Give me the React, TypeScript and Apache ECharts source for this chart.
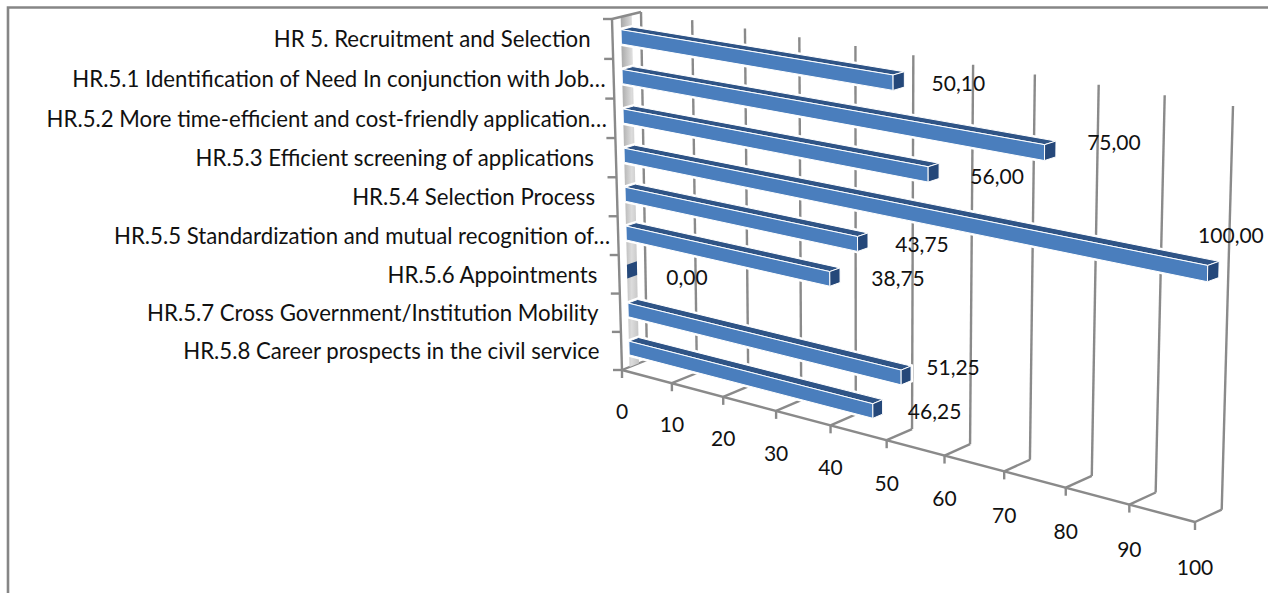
import React, { useEffect, useRef } from "react";
import * as echarts from "echarts";

const categories = [
  "HR 5. Recruitment and Selection",
  "HR.5.1 Identification of Need In conjunction with Job…",
  "HR.5.2 More time-efficient and cost-friendly application…",
  "HR.5.3 Efficient screening of applications",
  "HR.5.4 Selection Process",
  "HR.5.5 Standardization and mutual recognition of…",
  "HR.5.6 Appointments",
  "HR.5.7 Cross Government/Institution Mobility",
  "HR.5.8 Career prospects in the civil service",
];
const values = [50.1, 75, 56, 100, 43.75, 38.75, 0, 51.25, 46.25];
const xTicks = [0, 10, 20, 30, 40, 50, 60, 70, 80, 90, 100];

// Layout of the drawing (not data)
const labelOffsets: [number, number][] = [
  [54, 3], [58, -7], [58, 5], [12, -35], [54, 3], [58, 2], [50, 8], [42, -7], [52, 4],
];
const FONT = "Lato";
const FS_CAT = 22.2;
const FS_VAL = 21;
const GRID = { x: 100, y: 50, w: 1000, h: 450 };
const D0 = 0.3, D1 = 0.68, BAR = 0.18;
const C_GRID = "#8a8a8a";

type Pt = [number, number];
function homography(q: [Pt, Pt, Pt, Pt]) {
  const [[x0, y0], [x1, y1], [x2, y2], [x3, y3]] = q;
  const dx1 = x1 - x2, dx2 = x3 - x2, sx = x0 - x1 + x2 - x3;
  const dy1 = y1 - y2, dy2 = y3 - y2, sy = y0 - y1 + y2 - y3;
  const den = dx1 * dy2 - dx2 * dy1;
  const g = (sx * dy2 - dx2 * sy) / den;
  const h = (dx1 * sy - sx * dy1) / den;
  const a = x1 - x0 + g * x1, b = x3 - x0 + h * x3, c = x0;
  const d = y1 - y0 + g * y1, e = y3 - y0 + h * y3, f = y0;
  return (u: number, v: number): Pt => {
    const w = g * u + h * v + 1;
    return [(a * u + b * v + c) / w, (d * u + e * v + f) / w];
  };
}
const front = homography([[612, 19], [1201, 116], [1195, 522], [622, 370]]);
const back = homography([[641, 12], [1233, 106], [1221.7, 509.7], [647, 360]]);

// grid pixel (from the axes' scales) + depth -> skewed 3D picture position
function project(p: number[], d: number): Pt {
  const u = (p[0] - GRID.x) / GRID.w;
  const v = (p[1] - GRID.y) / GRID.h;
  const f = front(u, v), b = back(u, v);
  return [f[0] + (b[0] - f[0]) * d, f[1] + (b[1] - f[1]) * d];
}
const textStyle = (text: string, x: number, y: number, align: string, fs: number) => ({
  type: "text",
  silent: true,
  style: { text, x, y, align, verticalAlign: "middle", font: `${fs}px ${FONT}`, fill: "#111" },
});
const line = (a: Pt, b: Pt, w = 2.4) => ({
  type: "line",
  silent: true,
  shape: { x1: a[0], y1: a[1], x2: b[0], y2: b[1] },
  style: { stroke: C_GRID, lineWidth: w },
});
const poly = (points: Pt[], style: any) => ({ type: "polygon", silent: true, shape: { points }, style });

const renderTick = (_: any, api: any) => {
  const tick = api.value(0);
  const top = api.coord([tick, 0]);
  const band = api.size([0, 1])[1];
  const yTop = top[1] - band / 2;
  const yBot = yTop + band * categories.length;
  const pTop: number[] = [top[0], yTop], pBot: number[] = [top[0], yBot];
  const f = project(pBot, 0), b = project(pBot, 1), t = project(pTop, 1);
  return {
    type: "group",
    children: [
      line(t, b),
      line(b, f),
      line(f, [f[0], f[1] + 8]),
      textStyle(String(tick), f[0], f[1] + 40 + tick * 0.04, "center", FS_VAL),
    ],
  };
};

const renderWall = (_: any, api: any) => {
  const a = api.coord([0, 0]);
  const band = api.size([0, 1])[1];
  const yTop = a[1] - band / 2;
  const yBot = yTop + band * categories.length;
  const z = api.coord([100, 0]);
  const children: any[] = [];
  const tl = project([a[0], yTop], D0), tr = project([a[0], yTop], D1);
  const bl = project([a[0], yBot], D0), br = project([a[0], yBot], D1);
  children.push(
    poly([tl, tr, br, bl], {
      fill: new echarts.graphic.LinearGradient(0, 0, 1, 0, [
        { offset: 0, color: "#a6a6a6" },
        { offset: 0.6, color: "#dcdcdc" },
        { offset: 1, color: "#c4c4c4" },
      ]),
    }),
  );
  const s0 = project([a[0], yTop], 0), s1 = project([a[0], yBot], 0), c = project([a[0], yTop], 1);
  children.push(line(s0, s1), line(s0, c), line(s1, project([z[0], yBot], 0)));
  for (let i = 0; i <= categories.length; i++) {
    const p = project([a[0], yTop + band * i], 0);
    children.push(line(p, [p[0] - 9, p[1]]));
  }
  return { type: "group", children };
};

const renderCat = (_: any, api: any) => {
  const i = api.value(0);
  const name = categories[i];
  const p = api.coord([0, i]);
  const f = project(p, 0);
  const gap = name.endsWith("…") ? 8 : 22;
  return textStyle(name, f[0] - gap, f[1], "right", FS_CAT);
};

const renderBar = (_: any, api: any) => {
  const val = api.value(0);
  const i = api.value(1);
  const p0 = api.coord([0, i]);
  const p1 = api.coord([val, i]);
  const h = api.size([0, 1])[1] * BAR;
  const ft0 = project([p0[0], p0[1] - h], D0), ft1 = project([p1[0], p1[1] - h], D0);
  const fb0 = project([p0[0], p0[1] + h], D0), fb1 = project([p1[0], p1[1] + h], D0);
  const bt0 = project([p0[0], p0[1] - h], D1), bt1 = project([p1[0], p1[1] - h], D1);
  const bb1 = project([p1[0], p1[1] + h], D1);
  const kids: any[] = [];
  if (val > 0) {
    kids.push(poly([bt0, bt1, bb1, fb1, fb0, ft0], { fill: "#fff", stroke: "#fff", lineWidth: 4 }));
    kids.push(poly([ft0, ft1, bt1, bt0], { fill: "#2f5486", stroke: "#fff", lineWidth: 1 }));
    kids.push(poly([ft0, ft1, fb1, fb0], { fill: "#4a7ebd", stroke: "#fff", lineWidth: 1 }));
  }
  kids.push(poly([ft1, bt1, bb1, fb1], { fill: "#25487a", stroke: "#fff", lineWidth: val > 0 ? 1 : 0 }));
  return { type: "group", children: kids };
};

const renderValue = (_: any, api: any) => {
  const val = api.value(0);
  const i = api.value(1);
  const p = api.coord([val, i]);
  const end = project(p, D1);
  const [ox, oy] = labelOffsets[i];
  return textStyle(val.toFixed(2).replace(".", ","), end[0] + ox, end[1] + oy, "center", FS_VAL);
};

export default function App() {
  const ref = useRef<HTMLDivElement>(null);
  useEffect(() => {
    const chart = echarts.init(ref.current!, undefined, { renderer: "svg" });
    const barData = values.map((v, i) => [v, i]);
    chart.setOption({
      animation: false,
      backgroundColor: "#fff",
      grid: { left: GRID.x, top: GRID.y, width: GRID.w, height: GRID.h },
      xAxis: { type: "value", min: 0, max: 100, interval: 10, show: false },
      yAxis: { type: "category", data: categories, inverse: true, show: false },
      graphic: [
        {
          type: "polyline",
          silent: true,
          shape: { points: [[8, 593], [8, 7.5], [1268, 7.5]] },
          style: { stroke: "#868686", lineWidth: 2.6, fill: "none" },
        },
      ],
      series: [
        { type: "custom", coordinateSystem: "cartesian2d", data: xTicks.map((t) => [t]), encode: { x: 0 }, renderItem: renderTick, clip: false, z: 1 },
        { type: "custom", coordinateSystem: "cartesian2d", data: [[0]], encode: { x: 0 }, renderItem: renderWall, clip: false, z: 2 },
        { type: "custom", coordinateSystem: "cartesian2d", data: barData, encode: { x: 0, y: 1 }, renderItem: renderBar, clip: false, z: 3 },
        { type: "custom", coordinateSystem: "cartesian2d", data: categories.map((_, i) => [i]), encode: { y: 0 }, renderItem: renderCat, clip: false, z: 4 },
        { type: "custom", coordinateSystem: "cartesian2d", data: barData, encode: { x: 0, y: 1 }, renderItem: renderValue, clip: false, z: 5 },
      ],
    });
    return () => chart.dispose();
  }, []);
  return <div ref={ref} style={{ position: "fixed", left: 0, top: 0, width: 1268, height: 593 }} />;
}
